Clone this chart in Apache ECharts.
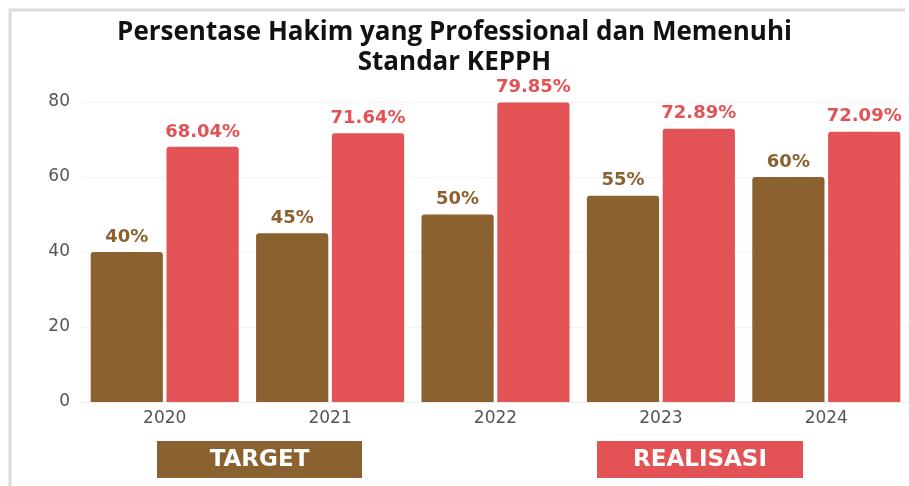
<!DOCTYPE html>
<html>
<head>
<meta charset="utf-8">
<script src="https://cdn.jsdelivr.net/npm/echarts@6/dist/echarts.min.js"></script>
<style>
  html, body { margin: 0; padding: 0; background: #fff; }
  #chart { width: 909px; height: 486px; }
</style>
</head>
<body>
<div id="chart"></div>
<script>
// data
const years = ['2020', '2021', '2022', '2023', '2024'];
const target = [40, 45, 50, 55, 60];
const realisasi = [68.04, 71.64, 79.85, 72.89, 72.09];
const seriesNames = ['TARGET', 'REALISASI'];
const yTicks = [0, 20, 40, 60, 80];

const brown = '#8B6130';
const red = '#E35355';

const chart = echarts.init(document.getElementById('chart'));

function pctLabel(color) {
  return {
    show: true,
    position: 'top',
    distance: 6,
    color: color,
    fontFamily: 'DejaVu Sans',
    fontWeight: 'bold',
    fontSize: 18,
    formatter: (p) => p.value + '%'
  };
}

const legendBoxes = [
  { x: 157, w: 205, color: brown, text: seriesNames[0] },
  { x: 597, w: 206, color: red, text: seriesNames[1] }
];

chart.setOption({
  backgroundColor: '#fff',
  animation: false,
  title: {
    text: 'Persentase Hakim yang Professional dan Memenuhi\nStandar KEPPH',
    left: 'center',
    top: 13,
    textStyle: {
      fontFamily: 'Open Sans',
      fontWeight: 'bold',
      fontSize: 26,
      lineHeight: 30,
      color: '#111'
    }
  },
  grid: { left: 82, right: 0, top: 102, bottom: 84 },
  xAxis: {
    type: 'category',
    data: years,
    axisTick: { show: false },
    axisLine: { lineStyle: { color: '#eeeeee' } },
    axisLabel: {
      color: '#555',
      fontFamily: 'DejaVu Sans',
      fontSize: 17,
      margin: 8
    }
  },
  yAxis: {
    type: 'value',
    min: yTicks[0],
    max: yTicks[yTicks.length - 1],
    interval: 20,
    axisLine: { show: false },
    axisTick: { show: false },
    splitLine: { lineStyle: { color: '#f3f3f3' } },
    axisLabel: {
      color: '#555',
      fontFamily: 'DejaVu Sans',
      fontSize: 17,
      margin: 12
    }
  },
  series: [
    {
      name: seriesNames[0],
      type: 'bar',
      data: target,
      barGap: '5%',
      barCategoryGap: '10.5%',
      itemStyle: { color: brown, borderRadius: [3, 3, 0, 0] },
      label: pctLabel(brown)
    },
    {
      name: seriesNames[1],
      type: 'bar',
      data: realisasi,
      itemStyle: { color: red, borderRadius: [3, 3, 0, 0] },
      label: pctLabel(red)
    }
  ],
  graphic: [
    {
      type: 'polyline',
      shape: { points: [[10, 486], [10, 10], [905, 10]] },
      style: { stroke: '#dcdcdc', lineWidth: 3, fill: null },
      silent: true
    }
  ].concat(legendBoxes.map((b) => ({
    type: 'group',
    left: b.x,
    top: 441,
    children: [
      { type: 'rect', shape: { x: 0, y: 0, width: b.w, height: 37 }, style: { fill: b.color } },
      {
        type: 'text',
        x: b.w / 2,
        y: 19,
        style: {
          text: b.text,
          fill: '#fff',
          font: 'bold 23px "DejaVu Sans"',
          align: 'center',
          verticalAlign: 'middle'
        }
      }
    ]
  })))
});
</script>
</body>
</html>
